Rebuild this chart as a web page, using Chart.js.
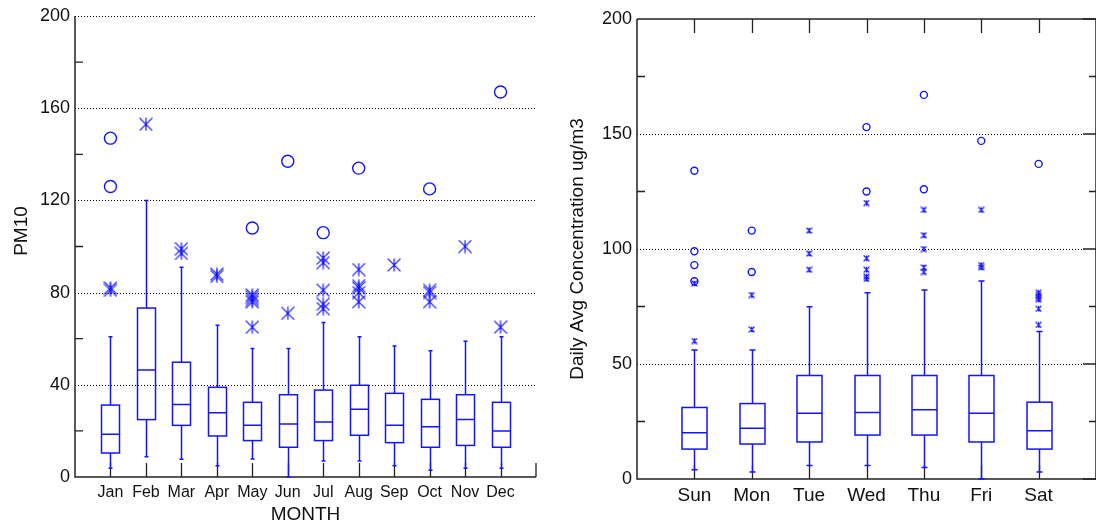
<!DOCTYPE html>
<html>
<head>
<meta charset="utf-8">
<script src="https://cdn.jsdelivr.net/npm/chart.js@4.4.0/dist/chart.umd.min.js"></script>
<style>
  html, body { margin: 0; padding: 0; background: #fff; overflow: hidden; }
  .pane { position: absolute; top: 0; width: 548px; height: 525px; }
</style>
</head>
<body>
<div class="pane" style="left:0"><canvas id="monthChart" width="548" height="525"></canvas></div>
<div class="pane" style="left:548px"><canvas id="dayChart" width="548" height="525"></canvas></div>
<script>
// ---- left panel: PM10 by month ----
const months = ["Jan", "Feb", "Mar", "Apr", "May", "Jun", "Jul", "Aug", "Sep", "Oct", "Nov", "Dec"];
const monthQ1 = [10.4, 24.9, 22.4, 17.8, 15.8, 12.9, 15.8, 18.1, 14.9, 12.9, 13.7, 12.9];
const monthMedian = [18.5, 46.4, 31.4, 27.9, 22.4, 23.0, 23.9, 29.4, 22.4, 21.8, 24.9, 20.0];
const monthQ3 = [31.2, 73.3, 49.8, 38.9, 32.4, 35.7, 37.7, 39.8, 36.3, 33.7, 35.7, 32.4];
const monthLow = [3.8, 8.8, 7.7, 4.9, 7.8, 0, 6.9, 6.9, 4.9, 2.9, 3.8, 3.8];
const monthHigh = [60.9, 120, 91, 65.8, 55.7, 55.7, 67, 60.9, 56.8, 54.8, 58.9, 60.9];
const monthFar = [[147, 126], [], [], [], [108], [137], [106], [134], [], [125], [], [167]];
const monthOut = [[81, 82], [153], [97, 99], [87, 88], [79, 78, 77, 76, 65], [71], [95, 93, 81, 75, 73],
                  [90, 83, 82, 80, 76], [92], [81, 80, 76], [100], [65]];
const monthTicks = [0, 40, 80, 120, 160, 200];
const monthMinor = [20, 60, 100, 140, 180];

// ---- right panel: daily avg by weekday ----
const days = ["Sun", "Mon", "Tue", "Wed", "Thu", "Fri", "Sat"];
const dayQ1 = [13.0, 15.2, 16.1, 19.1, 19.1, 16.1, 13.0];
const dayMedian = [20.1, 22.1, 28.6, 28.9, 30.1, 28.6, 21.0];
const dayQ3 = [31.1, 32.8, 45, 45, 45, 45, 33.4];
const dayLow = [4.0, 3.0, 5.9, 5.9, 5.0, 0, 3.0];
const dayHigh = [56.1, 56.1, 74.9, 81, 82.2, 86.1, 64.1];
const dayFar = [[134, 99, 93, 86], [108, 90], [], [153, 125], [167, 126], [147], [137]];
const dayOut = [[85, 60], [80, 65], [108, 98, 91], [120, 96, 91, 88, 87], [117, 106, 100, 92, 90],
                [117, 93, 92], [81, 80, 79, 78, 74, 67]];
const dayTicks = [0, 50, 100, 150, 200];
const dayMinor = [25, 75, 125, 175];

const BLUE = "#1414ff";
const FONT = "'Liberation Sans', Arial, sans-serif";

function asterisk(size, lw) {
  const c = document.createElement("canvas");
  c.width = c.height = size;
  const g = c.getContext("2d");
  g.strokeStyle = BLUE;
  g.lineWidth = lw;
  const m = lw / 2;
  g.beginPath();
  g.moveTo(size / 2, m); g.lineTo(size / 2, size - m);
  g.moveTo(m, m); g.lineTo(size - m, size - m);
  g.moveTo(size - m, m); g.lineTo(m, size - m);
  g.stroke();
  return c;
}

function points(lists) {
  const out = [];
  lists.forEach((vals, i) => vals.forEach(v => out.push({ x: i + 1, y: v })));
  return out;
}

const boxPlugin = {
  id: "boxes",
  beforeDatasetsDraw(chart, args, o) {
    const { ctx } = chart;
    const xs = chart.scales.x, ys = chart.scales.y;
    ctx.save();
    ctx.strokeStyle = BLUE;
    ctx.lineWidth = 1.5;
    o.q1.forEach((q1, i) => {
      const cx = Math.round(xs.getPixelForValue(i + 1)) + 0.5;
      const h = o.width / 2;
      const yq1 = ys.getPixelForValue(q1), yq3 = ys.getPixelForValue(o.q3[i]);
      const ymed = ys.getPixelForValue(o.med[i]);
      const ylo = ys.getPixelForValue(o.low[i]), yhi = ys.getPixelForValue(o.high[i]);
      ctx.beginPath();
      ctx.moveTo(cx, yq3); ctx.lineTo(cx, yhi);
      ctx.moveTo(cx - o.cap, yhi); ctx.lineTo(cx + o.cap, yhi);
      ctx.moveTo(cx, yq1); ctx.lineTo(cx, ylo);
      ctx.moveTo(cx - o.cap, ylo); ctx.lineTo(cx + o.cap, ylo);
      ctx.moveTo(cx - h, ymed); ctx.lineTo(cx + h, ymed);
      ctx.stroke();
      ctx.strokeRect(cx - h, yq3, 2 * h, yq1 - yq3);
    });
    ctx.restore();
  }
};

const axesPlugin = {
  id: "frame",
  beforeDatasetsDraw(chart, args, o) {
    const { ctx, chartArea: a } = chart;
    const xs = chart.scales.x, ys = chart.scales.y;
    ctx.save();
    // dotted grid
    ctx.strokeStyle = "#000";
    ctx.lineWidth = 1;
    ctx.setLineDash([1, 2]);
    o.major.forEach(v => {
      if (v === 0 || (o.box && v === 200)) return;
      const y = Math.round(ys.getPixelForValue(v)) + 0.5;
      ctx.beginPath(); ctx.moveTo(a.left, y); ctx.lineTo(o.box ? a.right - 13 : a.right, y); ctx.stroke();
    });
    ctx.setLineDash([]);
    // spines
    ctx.strokeStyle = "#222";
    ctx.lineWidth = 1.5;
    ctx.beginPath();
    ctx.moveTo(a.left, a.top); ctx.lineTo(a.left, a.bottom); ctx.lineTo(a.right, a.bottom);
    if (o.box) { ctx.lineTo(a.right, a.top); ctx.lineTo(a.left, a.top); }
    ctx.stroke();
    // ticks
    ctx.lineWidth = 1.3;
    ctx.beginPath();
    o.minor.forEach(v => {
      const y = ys.getPixelForValue(v);
      ctx.moveTo(a.left, y); ctx.lineTo(a.left + 8, y);
      if (o.box) { ctx.moveTo(a.right, y); ctx.lineTo(a.right - 7, y); }
    });
    if (o.box) {
      o.major.forEach(v => {
        const y = ys.getPixelForValue(v);
        ctx.moveTo(a.right, y); ctx.lineTo(a.right - 13, y);
      });
    }
    o.cats.forEach((c, i) => {
      const x = Math.round(xs.getPixelForValue(i + 1)) + 0.5;
      ctx.moveTo(x, a.bottom); ctx.lineTo(x, a.bottom - 14);
      if (o.box) { ctx.moveTo(x, a.top); ctx.lineTo(x, a.top + 14); }
    });
    if (!o.box) { ctx.moveTo(a.right, a.bottom); ctx.lineTo(a.right, a.bottom - 14); }
    ctx.stroke();
    // labels
    ctx.fillStyle = "#111";
    ctx.font = "18px " + FONT;
    ctx.textAlign = "right";
    ctx.textBaseline = "middle";
    o.major.forEach(v => ctx.fillText(String(v), a.left - 5, ys.getPixelForValue(v)));
    ctx.textAlign = "center";
    ctx.font = o.catFont + "px " + FONT;
    o.cats.forEach((c, i) => ctx.fillText(c, xs.getPixelForValue(i + 1), o.catY));
    ctx.font = o.titleFont + "px " + FONT;
    if (o.xTitle) ctx.fillText(o.xTitle, (a.left + a.right) / 2, o.xTitleY);
    ctx.translate(o.yTitleX, o.yTitleY);
    ctx.rotate(-Math.PI / 2);
    ctx.fillText(o.yTitle, 0, 0);
    ctx.restore();
  }
};

function makeChart(id, cfg) {
  return new Chart(document.getElementById(id), {
    type: "scatter",
    data: {
      datasets: [
        { data: points(cfg.far), pointStyle: "circle", pointRadius: cfg.r, borderColor: BLUE,
          backgroundColor: "rgba(0,0,0,0)", borderWidth: 1.4 },
        { data: points(cfg.out), pointStyle: cfg.star, borderColor: BLUE, backgroundColor: BLUE }
      ]
    },
    options: {
      responsive: false,
      animation: false,
      events: [],
      layout: { padding: cfg.pad, autoPadding: false },
      scales: {
        x: { type: "linear", min: 0, max: cfg.cats.length + 1, display: false },
        y: { type: "linear", min: 0, max: 200, display: false }
      },
      plugins: {
        legend: { display: false },
        tooltip: { enabled: false },
        boxes: cfg.boxes,
        frame: cfg.frame
      }
    },
    plugins: [axesPlugin, boxPlugin]
  });
}

makeChart("monthChart", {
  cats: months, far: monthFar, out: monthOut, r: 6, star: asterisk(14, 1.2),
  pad: { left: 75, top: 16, right: 12, bottom: 48 },
  boxes: { q1: monthQ1, med: monthMedian, q3: monthQ3, low: monthLow, high: monthHigh, width: 18, cap: 2 },
  frame: { box: false, major: monthTicks, minor: monthMinor, cats: months, catFont: 16, catY: 493,
           titleFont: 19, xTitle: "MONTH", xTitleY: 515, yTitle: "PM10", yTitleX: 22, yTitleY: 231 }
});

makeChart("dayChart", {
  cats: days, far: dayFar, out: dayOut, r: 3.5, star: asterisk(7, 1.3),
  pad: { left: 89, top: 19, right: 0, bottom: 46 },
  boxes: { q1: dayQ1, med: dayMedian, q3: dayQ3, low: dayLow, high: dayHigh, width: 25, cap: 3 },
  frame: { box: true, major: dayTicks, minor: dayMinor, cats: days, catFont: 19, catY: 496,
           titleFont: 19, xTitle: "", xTitleY: 0, yTitle: "Daily Avg Concentration ug/m3", yTitleX: 30, yTitleY: 249 }
});
</script>
</body>
</html>
